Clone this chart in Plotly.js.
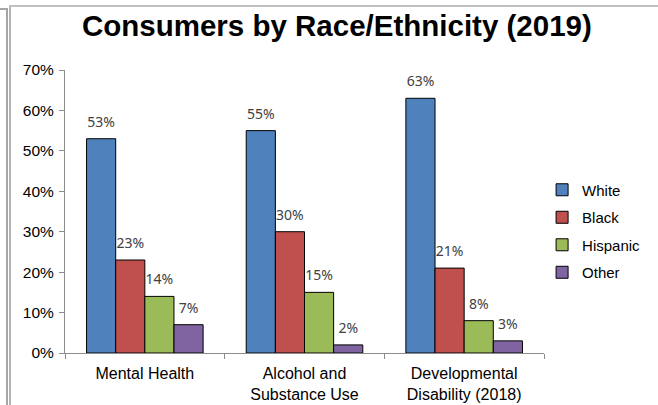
<!DOCTYPE html>
<html>
<head>
<meta charset="utf-8">
<script src="https://cdn.plot.ly/plotly-3.0.1.min.js"></script>
<style>
html,body{margin:0;padding:0;background:#fff;}
#wrap{position:relative;width:658px;height:405px;overflow:hidden;}
#chart{position:absolute;left:0;top:0;width:658px;height:405px;}
.ln{position:absolute;background:#a6a6a6;}
</style>
</head>
<body>
<div id="wrap">
<div id="chart"></div>
<div class="ln" style="left:0;top:8px;width:8px;height:2px;"></div>
<div class="ln" style="left:6px;top:8px;width:2px;height:397px;"></div>
<div class="ln" style="left:9px;top:5px;width:2px;height:400px;background:#b5b5b5;"></div>
<div class="ln" style="left:9px;top:5px;width:649px;height:2px;background:#c0c0c0;"></div>
</div>
<script>
var categories = ["Mental Health", "Alcohol and<br>Substance Use", "Developmental<br>Disability (2018)"];
var seriesNames = ["White", "Black", "Hispanic", "Other"];
var white = [53, 55, 63];
var black = [23, 30, 21];
var hispanic = [14, 15, 8];
var other = [7, 2, 3];
var yTickVals = [0, 10, 20, 30, 40, 50, 60, 70];
var yTickText = ["0%", "10%", "20%", "30%", "40%", "50%", "60%", "70%"];
var titleText = "Consumers by Race/Ethnicity (2019)";

var colors = ["#4F81BD", "#C0504D", "#9BBB59", "#8064A2"];
var values = [white, black, hispanic, other];

var traces = [];
values.forEach(function (v, i) {
  traces.push({
    type: "bar",
    name: seriesNames[i],
    x: categories,
    y: v,
    offsetgroup: "g" + i,
    legendgroup: "g" + i,
    marker: { color: colors[i], line: { color: "#000", width: 1 } },
    hoverinfo: "skip"
  });
});
values.forEach(function (v, i) {
  traces.push({
    type: "scatter",
    mode: "markers+text",
    x: categories,
    y: v,
    offsetgroup: "g" + i,
    showlegend: false,
    text: v.map(function (d) { return d + "%"; }),
    textposition: "top center",
    textfont: { family: "Noto Sans, sans-serif", size: 14, color: "#404040" },
    marker: { size: 12, color: "rgba(0,0,0,0)" },
    hoverinfo: "skip",
    cliponaxis: false
  });
});

var layout = {
  width: 658,
  height: 405,
  margin: { l: 65, r: 110, t: 70, b: 52 },
  paper_bgcolor: "rgba(0,0,0,0)",
  plot_bgcolor: "#fff",
  font: { family: "Liberation Sans, Arial, sans-serif", size: 15, color: "#000" },
  title: {
    text: "<b>" + titleText + "</b>",
    font: { family: "Liberation Sans, Arial, sans-serif", size: 29.5, color: "#000" },
    x: 0.512,
    xanchor: "center",
    y: 0.962,
    yanchor: "top",
    yref: "container"
  },
  barmode: "group",
  bargap: 0.27,
  bargroupgap: 0,
  scattermode: "group",
  scattergap: 0.27,
  showlegend: true,
  legend: {
    x: 0.996,
    xanchor: "left",
    y: 0.431,
    yanchor: "middle",
    traceorder: "grouped",
    tracegroupgap: 5,
    font: { family: "Liberation Sans, Arial, sans-serif", size: 15, color: "#000" },
    bgcolor: "rgba(0,0,0,0)"
  },
  xaxis: {
    type: "category",
    showline: true,
    linecolor: "#8c8c8c",
    linewidth: 1,
    ticks: "outside",
    tickson: "boundaries",
    ticklen: 5,
    tickcolor: "#8c8c8c",
    ticklabelstandoff: 6,
    showgrid: false,
    zeroline: false,
    tickfont: { family: "Liberation Sans, Arial, sans-serif", size: 16, color: "#000" }
  },
  yaxis: {
    range: [0, 70],
    tickvals: yTickVals,
    ticktext: yTickText,
    showline: true,
    linecolor: "#8c8c8c",
    linewidth: 1,
    ticks: "outside",
    ticklen: 5,
    tickcolor: "#8c8c8c",
    ticklabelstandoff: 2,
    showgrid: false,
    zeroline: false,
    tickfont: { family: "Liberation Sans, Arial, sans-serif", size: 15.5, color: "#000" }
  }
};

Plotly.newPlot("chart", traces, layout, { displayModeBar: false, staticPlot: true });
</script>
</body>
</html>
